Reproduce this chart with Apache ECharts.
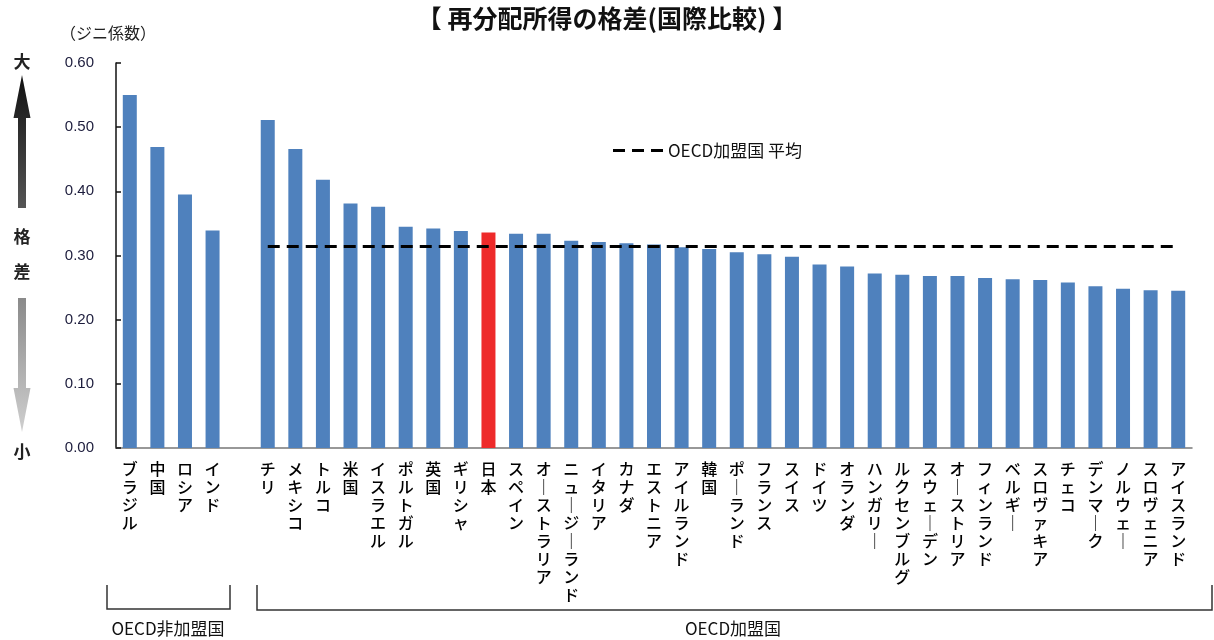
<!DOCTYPE html>
<html>
<head>
<meta charset="utf-8">
<script src="https://cdn.jsdelivr.net/npm/echarts@6/dist/echarts.min.js"></script>
<style>html,body{margin:0;padding:0;background:#fff}#c{width:1214px;height:640px}</style>
</head>
<body>
<div id="c"></div>
<script>
// ---- data ----
var nonMembers = ['ブラジル','中国','ロシア','インド'];
var nonMemberValues = [0.550, 0.469, 0.395, 0.339];
var members = ['チリ','メキシコ','トルコ','米国','イスラエル','ポルトガル','英国','ギリシャ','日本','スペイン','オーストラリア','ニュージーランド','イタリア','カナダ','エストニア','アイルランド','韓国','ポーランド','フランス','スイス','ドイツ','オランダ','ハンガリー','ルクセンブルグ','スウェーデン','オーストリア','フィンランド','ベルギー','スロヴァキア','チェコ','デンマーク','ノルウェー','スロヴェニア','アイスランド'];
var memberValues = [0.511,0.466,0.418,0.381,0.376,0.345,0.342,0.338,0.336,0.334,0.334,0.323,0.321,0.319,0.317,0.313,0.310,0.305,0.302,0.298,0.286,0.283,0.272,0.270,0.268,0.268,0.265,0.263,0.262,0.258,0.252,0.248,0.246,0.245];
var oecdAverage = 0.314;
var yTicks = [0, 0.1, 0.2, 0.3, 0.4, 0.5, 0.6];
var highlight = '日本';

// ---- build ----
var categories = nonMembers.concat(['']).concat(members);
var barData = nonMemberValues.concat([null]).concat(memberValues).map(function(v, i){
  if (categories[i] === highlight) return {value: v, itemStyle: {color: '#EE2A2A'}};
  return v;
});
var avgData = categories.map(function(c, i){ return i <= nonMembers.length ? null : oecdAverage; });

var FONT = '"Noto Sans CJK JP", sans-serif';
var chart = echarts.init(document.getElementById('c'), null, {renderer: 'canvas'});

var option = {
  animation: false,
  backgroundColor: '#fff',
  title: {
    text: '【 再分配所得の格差(国際比較) 】',
    left: 'center', top: 1,
    textStyle: {fontFamily: FONT, fontSize: 25, fontWeight: 'bold', color: '#111'}
  },
  legend: {
    data: [{name: 'OECD加盟国 平均', icon: 'path://M0,0h12v3h-12z M19,0h12v3h-12z M38,0h12v3h-12z'}],
    left: 608, top: 137,
    itemWidth: 50, itemHeight: 3, itemGap: 4,
    textStyle: {fontFamily: FONT, fontSize: 17, color: '#111'}
  },
  grid: {left: 116, right: 22, top: 63, bottom: 192},
  xAxis: {
    type: 'category',
    data: categories,
    axisLine: {lineStyle: {color: '#777', width: 1.5}},
    axisTick: {show: false},
    axisLabel: {
      interval: 0, margin: 12,
      fontFamily: FONT, fontSize: 16, lineHeight: 18, color: '#000', fontWeight: 500,
      verticalAlign: 'top',
      formatter: function(v){ return v.replace(/ー/g, '｜').split('').join('\n'); }
    }
  },
  yAxis: {
    type: 'value', min: 0, max: 0.6, interval: 0.1,
    axisLine: {show: true, lineStyle: {color: '#111', width: 1.5}},
    axisTick: {show: true, inside: true, length: 5, lineStyle: {color: '#111', width: 1.5}},
    splitLine: {show: false},
    axisLabel: {
      margin: 22, fontFamily: '"Liberation Sans", Arial, sans-serif', fontSize: 15, color: '#1c1c3c',
      formatter: function(v){ return v.toFixed(2); }
    }
  },
  series: [
    {
      name: '再分配所得のジニ係数', type: 'bar', data: barData, barWidth: 14,
      itemStyle: {color: '#4F81BD'}, z: 2
    },
    {
      name: 'OECD加盟国 平均', type: 'line', data: avgData, symbol: 'none',
      itemStyle: {color: '#000'},
      lineStyle: {color: '#000', width: 3, type: [12, 7]}, z: 3, connectNulls: false
    }
  ],
  graphic: [
    {type: 'text', left: 60, top: 25, style: {text: '（ジニ係数）', font: '16px ' + FONT, fill: '#222'}},
    {type: 'text', x: 22, y: 62, style: {text: '大', font: 'bold 17px ' + FONT, fill: '#222', align: 'center', verticalAlign: 'middle'}},
    {type: 'text', x: 22, y: 237, style: {text: '格', font: 'bold 17px ' + FONT, fill: '#222', align: 'center', verticalAlign: 'middle'}},
    {type: 'text', x: 22, y: 272, style: {text: '差', font: 'bold 17px ' + FONT, fill: '#222', align: 'center', verticalAlign: 'middle'}},
    {type: 'text', x: 22, y: 452, style: {text: '小', font: 'bold 17px ' + FONT, fill: '#222', align: 'center', verticalAlign: 'middle'}},
    {
      type: 'polygon',
      shape: {points: [[22, 75],[30.5, 118],[26, 118],[26, 208],[18, 208],[18, 118],[13.5, 118]]},
      style: {fill: new echarts.graphic.LinearGradient(0, 0, 0, 1, [{offset: 0, color: '#111'}, {offset: 1, color: '#555'}])}
    },
    {
      type: 'polygon',
      shape: {points: [[22, 432],[30.5, 388],[26, 388],[26, 298],[18, 298],[18, 388],[13.5, 388]]},
      style: {fill: new echarts.graphic.LinearGradient(0, 0, 0, 1, [{offset: 0, color: '#8a8a8a'}, {offset: 1, color: '#cfcfcf'}])}
    },
    {type: 'polyline', shape: {points: [[107, 585],[107, 609],[230, 609],[230, 585]]}, style: {stroke: '#333', lineWidth: 1.5, fill: null}},
    {type: 'polyline', shape: {points: [[257, 585],[257, 610],[1212, 610],[1212, 585]]}, style: {stroke: '#333', lineWidth: 1.5, fill: null}},
    {type: 'text', x: 168, y: 629, style: {text: 'OECD非加盟国', font: '17px ' + FONT, fill: '#111', align: 'center', verticalAlign: 'middle'}},
    {type: 'text', x: 733, y: 629, style: {text: 'OECD加盟国', font: '17px ' + FONT, fill: '#111', align: 'center', verticalAlign: 'middle'}}
  ]
};
chart.setOption(option);
</script>
</body>
</html>
